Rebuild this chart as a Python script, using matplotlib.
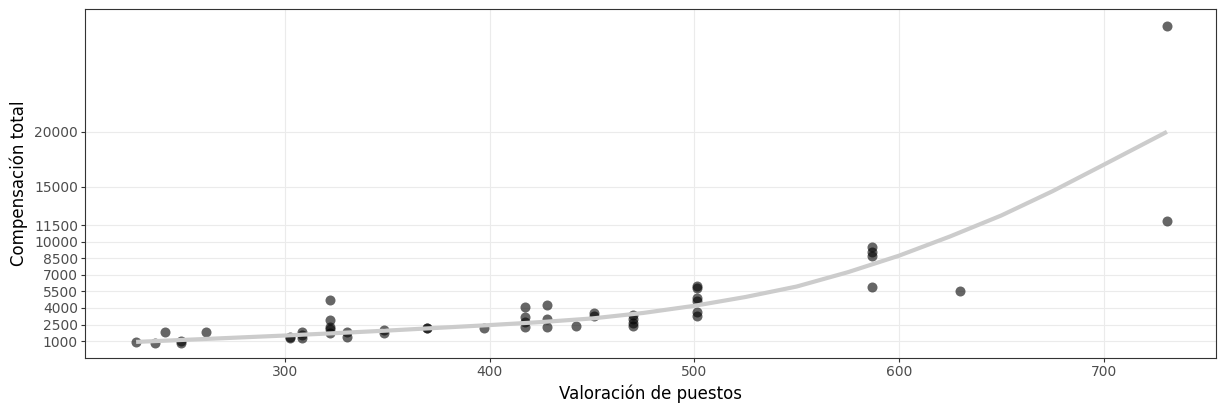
import numpy as np
import matplotlib.pyplot as plt

# puntos (valoración, compensación)
valoracion = [227, 236, 241, 249, 249, 261,
              302, 302, 308, 308, 308,
              322, 322, 322, 322, 322, 330, 330,
              348, 348, 369, 369, 397,
              417, 417, 417, 417, 428, 428, 428, 442, 451, 451,
              470, 470, 470, 470,
              501, 501, 501, 501, 501, 501,
              587, 587, 587, 587, 630, 731, 731]
compensacion = [950, 800, 1850, 850, 1000, 1850,
                1350, 1250, 1850, 1550, 1250,
                4750, 2950, 2300, 2050, 1750, 1850, 1400,
                2000, 1700, 2200, 2150, 2200,
                4100, 3200, 2750, 2300, 4250, 3000, 2300, 2400, 3500, 3300,
                3350, 3000, 2650, 2400,
                6000, 5800, 4900, 4600, 3600, 3300,
                9500, 9100, 8700, 5900, 5500, 29650, 11900]

# curva de ajuste
curva_x = [227, 250, 275, 300, 325, 350, 375, 400, 425, 450, 475, 500,
           525, 550, 575, 600, 625, 650, 675, 700, 731]
curva_y = [920, 1100, 1300, 1500, 1720, 1950, 2200, 2450, 2720, 3050, 3550, 4200,
           5000, 5950, 7250, 8750, 10500, 12400, 14600, 17000, 20000]

y_breaks = [1000, 2500, 4000, 5500, 7000, 8500, 10000, 11500, 15000, 20000]
x_breaks = [300, 400, 500, 600, 700]

fig = plt.figure(figsize=(12.21, 4.12), dpi=100)
ax = fig.add_axes([0.0696, 0.131, 0.9263, 0.847])

ax.scatter(valoracion, compensacion, s=52, color="black", alpha=0.6,
           linewidths=0, zorder=2)
ax.plot(curva_x, curva_y, color="#CCCCCC", linewidth=3.0,
        solid_capstyle="butt", solid_joinstyle="round", zorder=3)

ax.set_xlim(202, 755)
ax.set_ylim(-545, 31150)
ax.set_xticks(x_breaks)
ax.set_yticks(y_breaks)
ax.set_yticklabels([str(v) for v in y_breaks])

ax.grid(True, color="#EBEBEB", linewidth=0.8, zorder=0)
ax.set_axisbelow(True)
for s in ax.spines.values():
    s.set_color("#333333")
    s.set_linewidth(0.8)
ax.tick_params(axis="both", colors="#333333", length=3, width=0.8,
               labelsize=10, labelcolor="#4D4D4D", pad=2)

ax.set_xlabel("Valoración de puestos", fontsize=12, color="black", labelpad=4)
ax.set_ylabel("Compensación total", fontsize=12, color="black", labelpad=4)

fig.savefig("out.png", dpi=100)
